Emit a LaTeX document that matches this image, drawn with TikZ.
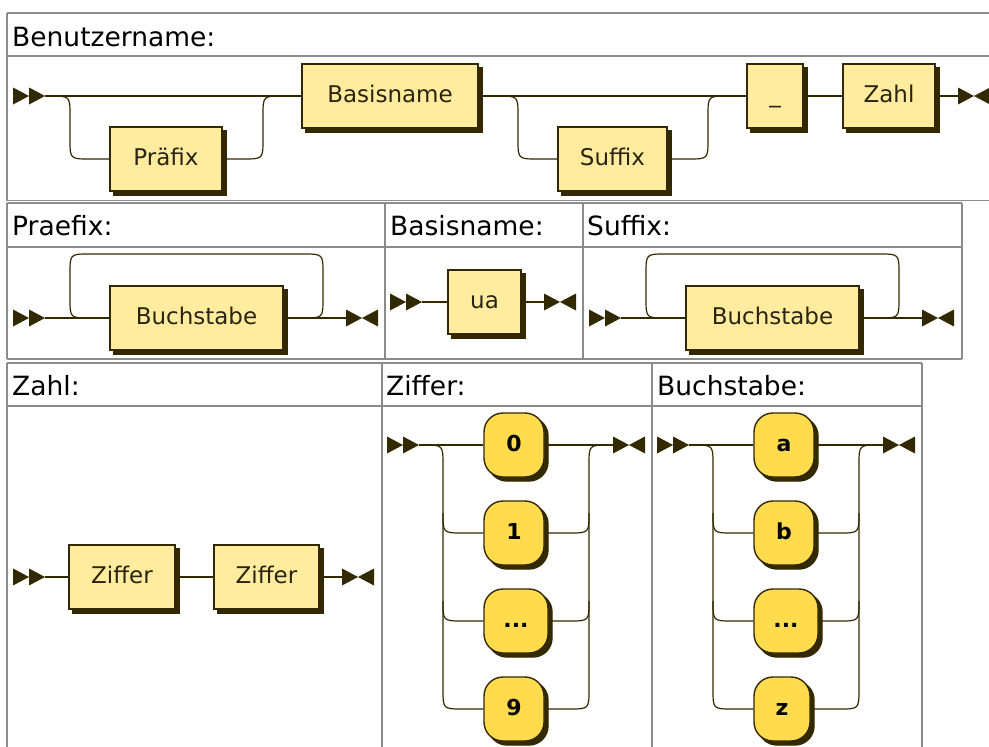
\documentclass[tikz,border=0pt]{standalone}
\usepackage{fontspec}
\setmainfont{DejaVu Sans}
\usetikzlibrary{shadows}
\definecolor{rrline}{HTML}{332900}
\definecolor{rrnt}{HTML}{FFEC9E}
\definecolor{rrt}{HTML}{FFDB4D}
\definecolor{rrtext}{HTML}{2A2410}
\definecolor{tblgray}{RGB}{140,140,140}
\newcommand{\rrbeg}[2]{%
  \fill[rrline] (#1,#2-8.5) -- (#1+16,#2) -- (#1,#2+8.5) -- cycle;
  \fill[rrline] (#1+16,#2-8.5) -- (#1+32,#2) -- (#1+16,#2+8.5) -- cycle;}
\newcommand{\rrfin}[2]{%
  \fill[rrline] (#1-16,#2-8.5) -- (#1,#2) -- (#1-16,#2+8.5) -- cycle;
  \fill[rrline] (#1+16,#2-8.5) -- (#1,#2) -- (#1+16,#2+8.5) -- cycle;}
\tikzset{
  rr/.style={draw=rrline, line width=1.2pt},
  ntbox/.style={draw=rrline, fill=rrnt, line width=1.4pt, minimum height=64pt,
    inner sep=0pt, text height=16pt, text depth=3pt,
    font=\fontsize{23}{23}\selectfont, text=rrtext,
    general shadow={shadow xshift=4pt, shadow yshift=-4pt, fill=rrline, draw=rrline}},
  tbox/.style={ntbox, fill=rrt, rounded corners=19pt, text=black!90!rrline,
    font=\fontsize{22}{22}\selectfont\bfseries},
  hdr/.style={anchor=base west, inner sep=0pt, font=\fontsize{26.5}{26.5}\selectfont, text=black},
  tbl/.style={draw=tblgray, line width=1.6pt},
}
\begin{document}
\begin{tikzpicture}[x=1pt,y=-1pt]
\useasboundingbox (0,0) rectangle (989,747);
\fill[white] (0,0) rectangle (989,747);

% ---------- tables ----------
\draw[tbl] (7,13) -- (989,13);
\draw[tbl] (7,56) -- (989,56);
\draw[tbl] (7,200.5) -- (989,200.5);
\draw[tbl] (7,13) -- (7,200.5);

\draw[tbl] (7,203) -- (962,203);
\draw[tbl] (7,247) -- (962,247);
\draw[tbl] (7,359) -- (962,359);
\foreach \xx in {7,385,583,962} \draw[tbl] (\xx,203) -- (\xx,359);

\draw[tbl] (7,363) -- (922,363);
\draw[tbl] (7,406) -- (922,406);
\foreach \xx in {7,382,652,922} \draw[tbl] (\xx,363) -- (\xx,750);

% ---------- headers ----------
\node[hdr] (h1) at (12,46) {Benutzername:};
\node[hdr] (h2) at (12,235) {Praefix:};
\node[hdr] (h3) at (390,235) {Basisname:};
\node[hdr] (h4) at (587,235) {Suffix:};
\node[hdr] (h5) at (12,395) {Zahl:};
\node[hdr] (h6) at (386,395) {Ziffer:};
\node[hdr] (h7) at (657,395) {Buchstabe:};

% ---------- Benutzername ----------
\node[ntbox, minimum width=112pt] (pre) at (166,159) {Präfix};
\node[ntbox, minimum width=176pt] (base) at (390,96) {Basisname};
\node[ntbox, minimum width=109pt] (suf) at (612.5,159) {Suffix};
\node[ntbox, minimum width=56pt] (us) at (775,96) {\_};
\node[ntbox, minimum width=92pt] (zahl) at (889,96) {Zahl};
\rrbeg{13}{96}
\coordinate (s1) at (45,96);
\coordinate (e1) at (958,96);
\draw[rr] (s1) -- (base.west);
\draw[rr] (50,96) .. controls (70,96) .. (70,116) -- (70,139) .. controls (70,159) .. (90,159) -- (pre.west);
\draw[rr] (pre.east) -- (243,159) .. controls (263,159) .. (263,139) -- (263,116) .. controls (263,96) .. (283,96);
\draw[rr] (base.east) -- (us.west);
\draw[rr] (498,96) .. controls (518,96) .. (518,116) -- (518,139) .. controls (518,159) .. (538,159) -- (suf.west);
\draw[rr] (suf.east) -- (688,159) .. controls (708,159) .. (708,139) -- (708,116) .. controls (708,96) .. (728,96);
\draw[rr] (us.east) -- (zahl.west);
\draw[rr] (zahl.east) -- (e1);
\rrfin{974}{96}

% ---------- Praefix ----------
\node[ntbox, minimum width=173pt] (b1) at (196.5,318) {Buchstabe};
\rrbeg{13}{318}
\coordinate (s2) at (45,318);
\coordinate (e2) at (346,318);
\draw[rr] (s2) -- (b1.west);
\draw[rr] (b1.east) -- (e2);
\draw[rr] (90,318) .. controls (70,318) .. (70,298) -- (70,274) .. controls (70,254) .. (90,254)
  -- (303,254) .. controls (323,254) .. (323,274) -- (323,298) .. controls (323,318) .. (303,318);
\rrfin{362}{318}

% ---------- Basisname ----------
\node[ntbox, minimum width=73pt] (ua) at (484.5,302) {ua};
\rrbeg{390}{302}
\coordinate (s3) at (422,302);
\coordinate (e3) at (544,302);
\draw[rr] (s3) -- (ua.west);
\draw[rr] (ua.east) -- (e3);
\rrfin{560}{302}

% ---------- Suffix ----------
\node[ntbox, minimum width=173pt] (b2) at (772.5,318) {Buchstabe};
\rrbeg{589}{318}
\coordinate (s4) at (621,318);
\coordinate (e4) at (922,318);
\draw[rr] (s4) -- (b2.west);
\draw[rr] (b2.east) -- (e4);
\draw[rr] (666,318) .. controls (646,318) .. (646,298) -- (646,274) .. controls (646,254) .. (666,254)
  -- (879,254) .. controls (899,254) .. (899,274) -- (899,298) .. controls (899,318) .. (879,318);
\rrfin{938}{318}

% ---------- Zahl ----------
\node[ntbox, minimum width=106pt] (z1) at (122,577) {Ziffer};
\node[ntbox, minimum width=105pt] (z2) at (266.5,577) {Ziffer};
\rrbeg{13}{577}
\coordinate (s5) at (45,577);
\coordinate (e5) at (342,577);
\draw[rr] (s5) -- (z1.west);
\draw[rr] (z1.east) -- (z2.west);
\draw[rr] (z2.east) -- (e5);
\rrfin{358}{577}

% ---------- Ziffer ----------
\node[tbox, minimum width=60pt] (t0) at (514,445) {0};
\node[tbox, minimum width=60pt] (t1) at (514,533) {1};
\node[tbox, minimum width=64pt] (td) at (516,621) {...};
\node[tbox, minimum width=60pt] (t9) at (514,709) {9};
\rrbeg{387}{445}
\coordinate (s6) at (419,445);
\coordinate (e6) at (613,445);
\draw[rr] (s6) -- (t0.west);
\draw[rr] (t0.east) -- (e6);
\draw[rr] (423,445) .. controls (443,445) .. (443,465) -- (443,689) .. controls (443,709) .. (463,709) -- (t9.west);
\draw[rr] (443,513) .. controls (443,533) .. (463,533) -- (t1.west);
\draw[rr] (443,601) .. controls (443,621) .. (463,621) -- (td.west);
\draw[rr] (t9.east) -- (569,709) .. controls (589,709) .. (589,689) -- (589,465) .. controls (589,445) .. (609,445);
\draw[rr] (t1.east) -- (569,533) .. controls (589,533) .. (589,513);
\draw[rr] (td.east) -- (569,621) .. controls (589,621) .. (589,601);
\rrfin{629}{445}

% ---------- Buchstabe ----------
\node[tbox, minimum width=60pt] (ta) at (784,445) {a};
\node[tbox, minimum width=60pt] (tb) at (784,533) {b};
\node[tbox, minimum width=64pt] (tdd) at (786,621) {...};
\node[tbox, minimum width=56pt] (tz) at (782,709) {z};
\rrbeg{657}{445}
\coordinate (s7) at (689,445);
\coordinate (e7) at (883,445);
\draw[rr] (s7) -- (ta.west);
\draw[rr] (ta.east) -- (e7);
\draw[rr] (693,445) .. controls (713,445) .. (713,465) -- (713,689) .. controls (713,709) .. (733,709) -- (tz.west);
\draw[rr] (713,513) .. controls (713,533) .. (733,533) -- (tb.west);
\draw[rr] (713,601) .. controls (713,621) .. (733,621) -- (tdd.west);
\draw[rr] (tz.east) -- (839,709) .. controls (859,709) .. (859,689) -- (859,465) .. controls (859,445) .. (879,445);
\draw[rr] (tb.east) -- (839,533) .. controls (859,533) .. (859,513);
\draw[rr] (tdd.east) -- (839,621) .. controls (859,621) .. (859,601);
\rrfin{899}{445}
\end{tikzpicture}
\end{document}
